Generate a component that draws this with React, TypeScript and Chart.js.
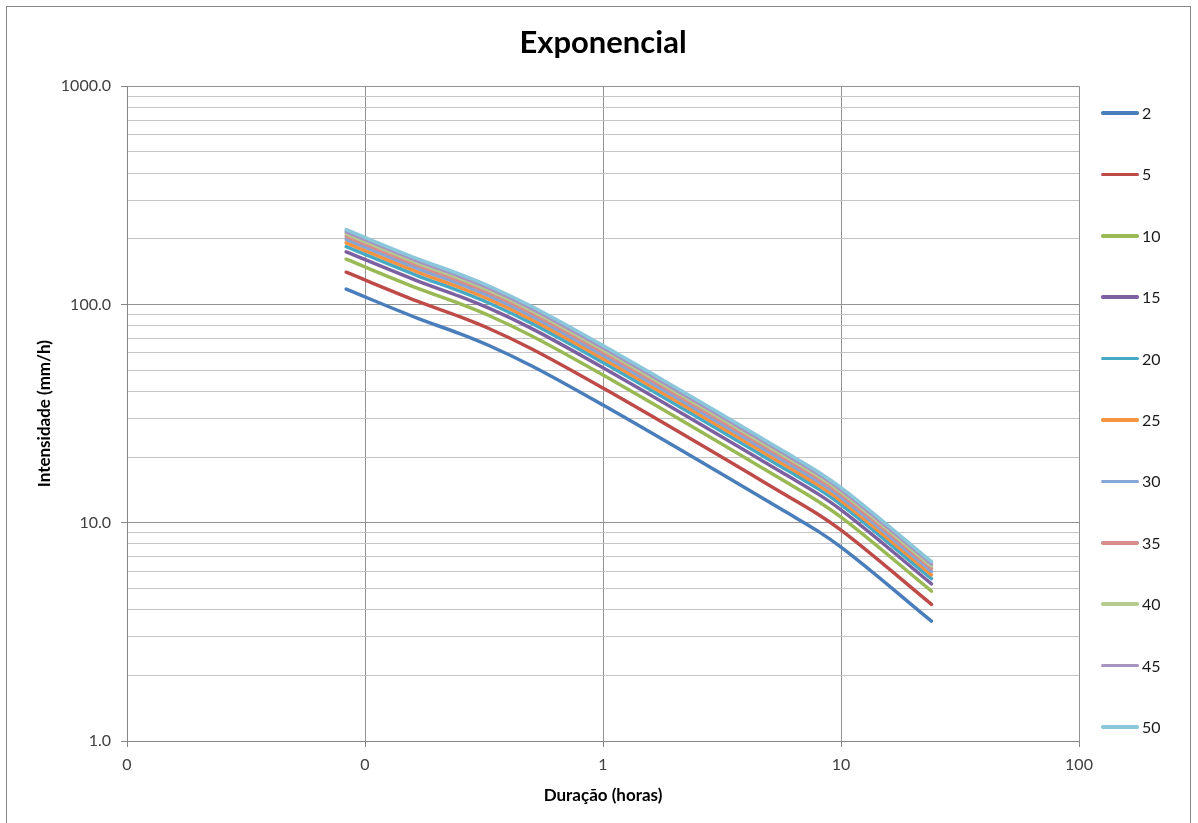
import React, { useEffect, useRef } from "react";
import { Chart, registerables } from "chart.js";

Chart.register(...registerables);

// Durations (minutes) of the plotted points
const DURATIONS_MIN = [5, 10, 15, 20, 30, 60, 360, 480, 600, 1440];

// Return periods (legend labels)
const SERIES_LABELS = ["2", "5", "10", "15", "20", "25", "30", "35", "40", "45", "50"];

// Intensities (mm/h) per return period
const I_T2 = [117.5, 86.4, 73.5, 64.7, 52.4, 34.6, 11.04, 9.15, 7.73, 3.54];
const I_T5 = [140.5, 103.3, 87.9, 77.4, 62.7, 41.4, 13.2, 10.94, 9.25, 4.23];
const I_T10 = [161.2, 118.5, 100.8, 88.8, 71.9, 47.5, 15.15, 12.55, 10.61, 4.86];
const I_T15 = [174.1, 128.0, 108.9, 95.9, 77.7, 51.3, 16.36, 13.56, 11.46, 5.25];
const I_T20 = [184.0, 135.3, 115.1, 101.3, 82.1, 54.2, 17.29, 14.33, 12.11, 5.54];
const I_T25 = [191.5, 140.8, 119.8, 105.5, 85.4, 56.4, 18.0, 14.91, 12.6, 5.77];
const I_T30 = [198.7, 146.1, 124.3, 109.4, 88.6, 58.5, 18.67, 15.47, 13.07, 5.99];
const I_T35 = [205.2, 150.9, 128.3, 113.0, 91.5, 60.4, 19.28, 15.98, 13.5, 6.18];
const I_T40 = [210.6, 154.8, 131.7, 115.9, 93.9, 62.0, 19.78, 16.4, 13.85, 6.34];
const I_T45 = [215.0, 158.1, 134.5, 118.4, 95.9, 63.3, 20.2, 16.74, 14.15, 6.48];
const I_T50 = [220.1, 161.8, 137.7, 121.2, 98.1, 64.8, 20.68, 17.14, 14.48, 6.63];

const SERIES_VALUES = [I_T2, I_T5, I_T10, I_T15, I_T20, I_T25, I_T30, I_T35, I_T40, I_T45, I_T50];

const COLORS = [
  "#4A7EBB", "#BE4B48", "#98B954", "#7D60A0", "#46AAC5", "#F69240",
  "#86A6D6", "#D88D8B", "#B5CC8E", "#A595C0", "#8CC6DB",
];

// Axis ticks
const X_TICKS = [0.01, 0.1, 1, 10, 100];
const X_TICK_LABELS = ["0", "0", "1", "10", "100"];
const Y_TICKS = [
  1, 2, 3, 4, 5, 6, 7, 8, 9,
  10, 20, 30, 40, 50, 60, 70, 80, 90,
  100, 200, 300, 400, 500, 600, 700, 800, 900,
  1000,
];
const Y_MAJOR = [1, 10, 100, 1000];
const Y_MAJOR_LABELS = ["1.0", "10.0", "100.0", "1000.0"];

const FONT = "Lato, 'Open Sans', sans-serif";

export default function App() {
  const canvasRef = useRef<HTMLCanvasElement | null>(null);

  useEffect(() => {
    const canvas = canvasRef.current;
    if (!canvas) return;
    const datasets = SERIES_VALUES.map((vals, i) => ({
      label: SERIES_LABELS[i],
      data: vals.map((v, j) => ({ x: DURATIONS_MIN[j] / 60, y: v })),
      borderColor: COLORS[i],
      backgroundColor: COLORS[i],
      borderWidth: 3.5,
      borderCapStyle: "round" as const,
      pointRadius: 0,
      fill: false,
      cubicInterpolationMode: "monotone" as const,
      order: SERIES_VALUES.length - i,
    }));

    const chart = new Chart(canvas, {
      type: "line",
      data: { datasets },
      options: {
        responsive: false,
        animation: false,
        layout: { padding: { left: 7, right: 119, top: 0, bottom: 0 } },
        plugins: {
          legend: { display: false },
          tooltip: { enabled: false },
          title: {
            display: true,
            text: "Exponencial",
            fullSize: false,
            color: "#000",
            font: { family: FONT, size: 31, weight: "bold" },
            padding: { top: 24, bottom: 25 },
          },
        },
        scales: {
          x: {
            type: "logarithmic",
            min: 0.01,
            max: 100,
            afterBuildTicks: (scale: any) => {
              scale.ticks = X_TICKS.map((v) => ({ value: v }));
            },
            afterFit: (scale: any) => {
              scale.height = 82;
            },
            ticks: {
              autoSkip: false,
              maxRotation: 0,
              padding: 8,
              color: "#404040",
              font: { family: FONT, size: 16 },
              callback: (_v: any, idx: number) => X_TICK_LABELS[idx],
            },
            grid: {
              color: "#939393",
              lineWidth: 1,
              tickLength: 6,
              tickColor: "#868686",
            },
            border: { color: "#868686", width: 1 },
            title: {
              display: true,
              text: "Duração (horas)",
              color: "#000",
              font: { family: FONT, size: 17, weight: "bold" },
              padding: { top: 4, bottom: 17 },
            },
          },
          y: {
            type: "logarithmic",
            min: 1,
            max: 1000,
            afterBuildTicks: (scale: any) => {
              scale.ticks = Y_TICKS.map((v) => ({ value: v }));
            },
            afterFit: (scale: any) => {
              scale.width = 120;
            },
            ticks: {
              autoSkip: false,
              padding: 10,
              color: "#404040",
              font: { family: FONT, size: 16 },
              callback: (v: any) => {
                const k = Y_MAJOR.indexOf(Number(v));
                return k >= 0 ? Y_MAJOR_LABELS[k] : "";
              },
            },
            grid: {
              color: (ctx: any) =>
                ctx.tick && Y_MAJOR.indexOf(ctx.tick.value) >= 0 ? "#939393" : "#c4c4c4",
              lineWidth: 1,
              tickLength: 6,
              tickColor: (ctx: any) =>
                ctx.tick && Y_MAJOR.indexOf(ctx.tick.value) >= 0 ? "#868686" : "rgba(0,0,0,0)",
            },
            border: { color: "#868686", width: 1 },
            title: {
              display: true,
              text: "Intensidade (mm/h)",
              color: "#000",
              font: { family: FONT, size: 17, weight: "bold" },
              padding: { top: 27, bottom: 4 },
            },
          },
        },
      },
    });
    return () => chart.destroy();
  }, []);

  const LEGEND_TOP = 113;
  const LEGEND_STEP = 61.4;

  return (
    <div
      style={{
        position: "fixed",
        left: 0,
        top: 0,
        width: 1198,
        height: 823,
        overflow: "hidden",
        background: "#fff",
      }}
    >
      <div
        style={{
          position: "absolute",
          left: 6,
          top: 6,
          width: 1185,
          height: 840,
          border: "1px solid #868686",
          boxSizing: "border-box",
        }}
      />
      <canvas
        ref={canvasRef}
        width={1198}
        height={823}
        style={{ position: "absolute", left: 0, top: 0, width: 1198, height: 823 }}
      />
      {SERIES_LABELS.map((lab, i) => (
        <div
          key={lab}
          style={{
            position: "absolute",
            left: 1101,
            top: LEGEND_TOP + i * LEGEND_STEP - 11,
            height: 22,
            display: "flex",
            alignItems: "center",
            fontFamily: FONT,
            fontSize: 16,
            color: "#1a1a1a",
          }}
        >
          <span
            style={{
              display: "inline-block",
              width: 38,
              height: 3.5,
              borderRadius: 1.75,
              background: COLORS[i],
            }}
          />
          <span style={{ marginLeft: 3, lineHeight: "22px" }}>{lab}</span>
        </div>
      ))}
    </div>
  );
}
